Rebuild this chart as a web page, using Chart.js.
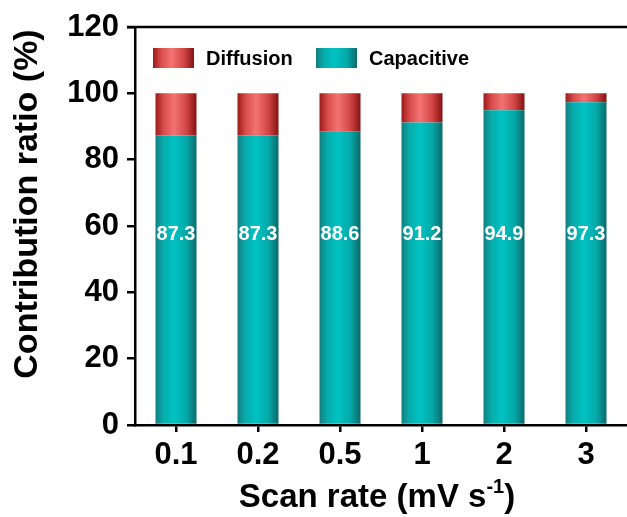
<!DOCTYPE html>
<html>
<head>
<meta charset="utf-8">
<script src="https://cdn.jsdelivr.net/npm/chart.js@4"></script>
<style>
  html, body { margin: 0; padding: 0; background: #ffffff; }
  #wrap { width: 627px; height: 517px; position: relative; }
</style>
</head>
<body>
<div id="wrap"><canvas id="c" width="627" height="517"></canvas></div>
<script>
// Scan rates (mV s-1) and the share of charge from each mechanism (%)
const scanRates = ['0.1', '0.2', '0.5', '1', '2', '3'];
const capacitive = [87.3, 87.3, 88.6, 91.2, 94.9, 97.3];
const diffusion = [12.7, 12.7, 11.4, 8.8, 5.1, 2.7];
const yTicks = [0, 20, 40, 60, 80, 100, 120];
const seriesNames = ['Diffusion', 'Capacitive'];

const FONT = "'Liberation Sans', Arial, 'DejaVu Sans', sans-serif";
const BAR_FRACTION = 0.5;
const LABEL_LEVEL = 57.3;   // height (in % units) of the white value labels

// Cylinder-like horizontal shading for each colour family
const shades = {
  teal: ['#127f80', '#07adad', '#00c2c2', '#05a9a9', '#0a6a6b'],
  red:  ['#9c1a1a', '#d94c4c', '#f47373', '#d24545', '#861212']
};

function makeGradient(ctx, x0, x1, stops) {
  const g = ctx.createLinearGradient(x0, 0, x1, 0);
  g.addColorStop(0, stops[0]);
  g.addColorStop(0.2, stops[1]);
  g.addColorStop(0.45, stops[2]);
  g.addColorStop(0.75, stops[3]);
  g.addColorStop(1, stops[4]);
  return g;
}

function barFill(family) {
  return function (context) {
    const chart = context.chart;
    const xs = chart.scales.x;
    if (!chart.chartArea || !xs || context.dataIndex === undefined) return shades[family][2];
    const cx = xs.getPixelForValue(context.dataIndex);
    const half = (xs.width / scanRates.length) * BAR_FRACTION / 2;
    return makeGradient(chart.ctx, cx - half, cx + half, shades[family]);
  };
}

// Frame line along the top of the plot, axis titles, value labels and legend
const decorations = {
  id: 'decorations',
  afterDraw(chart) {
    const { ctx, chartArea, scales } = chart;
    ctx.save();

    // top frame line
    ctx.strokeStyle = '#000';
    ctx.lineWidth = 2.5;
    ctx.beginPath();
    ctx.moveTo(chartArea.left - 8, chartArea.top);
    ctx.lineTo(chart.width, chartArea.top);
    ctx.stroke();

    // white value labels inside the capacitive bars
    ctx.fillStyle = '#ffffff';
    ctx.font = 'bold 20px ' + FONT;
    ctx.textAlign = 'center';
    ctx.textBaseline = 'middle';
    const ly = scales.y.getPixelForValue(LABEL_LEVEL);
    capacitive.forEach((v, i) => {
      ctx.fillText(v.toFixed(1), scales.x.getPixelForValue(i), ly);
    });

    // legend inside the plot area
    const boxW = 41, boxH = 20;
    const items = [
      { text: seriesNames[0], family: 'red', x: 153 },
      { text: seriesNames[1], family: 'teal', x: 316 }
    ];
    const legY = 48;
    ctx.font = 'bold 20px ' + FONT;
    ctx.textAlign = 'left';
    ctx.textBaseline = 'middle';
    items.forEach(it => {
      ctx.fillStyle = makeGradient(ctx, it.x, it.x + boxW, shades[it.family]);
      ctx.fillRect(it.x, legY, boxW, boxH);
      ctx.fillStyle = '#000';
      ctx.fillText(it.text, it.x + boxW + 12, legY + boxH / 2 + 1);
    });

    // y axis title
    ctx.fillStyle = '#000';
    ctx.font = 'bold 34px ' + FONT;
    ctx.textAlign = 'center';
    ctx.textBaseline = 'middle';
    ctx.save();
    ctx.translate(28, 204);
    ctx.rotate(-Math.PI / 2);
    ctx.fillText('Contribution ratio (%)', 0, 0);
    ctx.restore();

    // x axis title with superscript
    const main = 'Scan rate (mV s';
    const sup = '-1';
    const tail = ')';
    const bigFont = 'bold 33px ' + FONT;
    const supFont = 'bold 20px ' + FONT;
    ctx.font = bigFont;
    const wMain = ctx.measureText(main).width;
    const wTail = ctx.measureText(tail).width;
    ctx.font = supFont;
    const wSup = ctx.measureText(sup).width;
    const total = wMain + wSup + wTail;
    let x = 377 - total / 2;
    const base = 507;
    ctx.textAlign = 'left';
    ctx.textBaseline = 'alphabetic';
    ctx.font = bigFont;
    ctx.fillText(main, x, base);
    x += wMain;
    ctx.font = supFont;
    ctx.fillText(sup, x, base - 14);
    x += wSup;
    ctx.font = bigFont;
    ctx.fillText(tail, x, base);

    ctx.restore();
  }
};

new Chart(document.getElementById('c'), {
  type: 'bar',
  data: {
    labels: scanRates,
    datasets: [
      {
        label: seriesNames[1],
        data: capacitive,
        backgroundColor: barFill('teal'),
        borderWidth: 0,
        stack: 's'
      },
      {
        label: seriesNames[0],
        data: diffusion,
        backgroundColor: barFill('red'),
        borderWidth: 0,
        stack: 's'
      }
    ]
  },
  options: {
    responsive: false,
    animation: false,
    devicePixelRatio: 1,
    layout: { padding: { top: 27, right: -3, left: 0, bottom: 0 } },
    datasets: { bar: { categoryPercentage: 1, barPercentage: BAR_FRACTION } },
    plugins: {
      legend: { display: false },
      tooltip: { enabled: false }
    },
    scales: {
      x: {
        stacked: true,
        offset: true,
        afterFit(scale) { scale.height = 92; },
        border: { display: true, color: '#000', width: 2.5 },
        grid: {
          offset: false,
          drawOnChartArea: false,
          drawTicks: true,
          tickLength: 7,
          color: '#000',
          lineWidth: 2.5
        },
        ticks: {
          color: '#000',
          padding: 5,
          font: { family: FONT, size: 31, weight: 'bold' }
        }
      },
      y: {
        stacked: true,
        min: yTicks[0],
        max: yTicks[yTicks.length - 1],
        afterFit(scale) { scale.width = 135; },
        afterBuildTicks(scale) { scale.ticks = yTicks.map(v => ({ value: v })); },
        border: { display: true, color: '#000', width: 2.5 },
        grid: {
          drawOnChartArea: false,
          drawTicks: true,
          tickLength: 8,
          color: '#000',
          lineWidth: 2.5
        },
        ticks: {
          color: '#000',
          padding: 8,
          font: { family: FONT, size: 31, weight: 'bold' }
        }
      }
    }
  },
  plugins: [decorations]
});
</script>
</body>
</html>
